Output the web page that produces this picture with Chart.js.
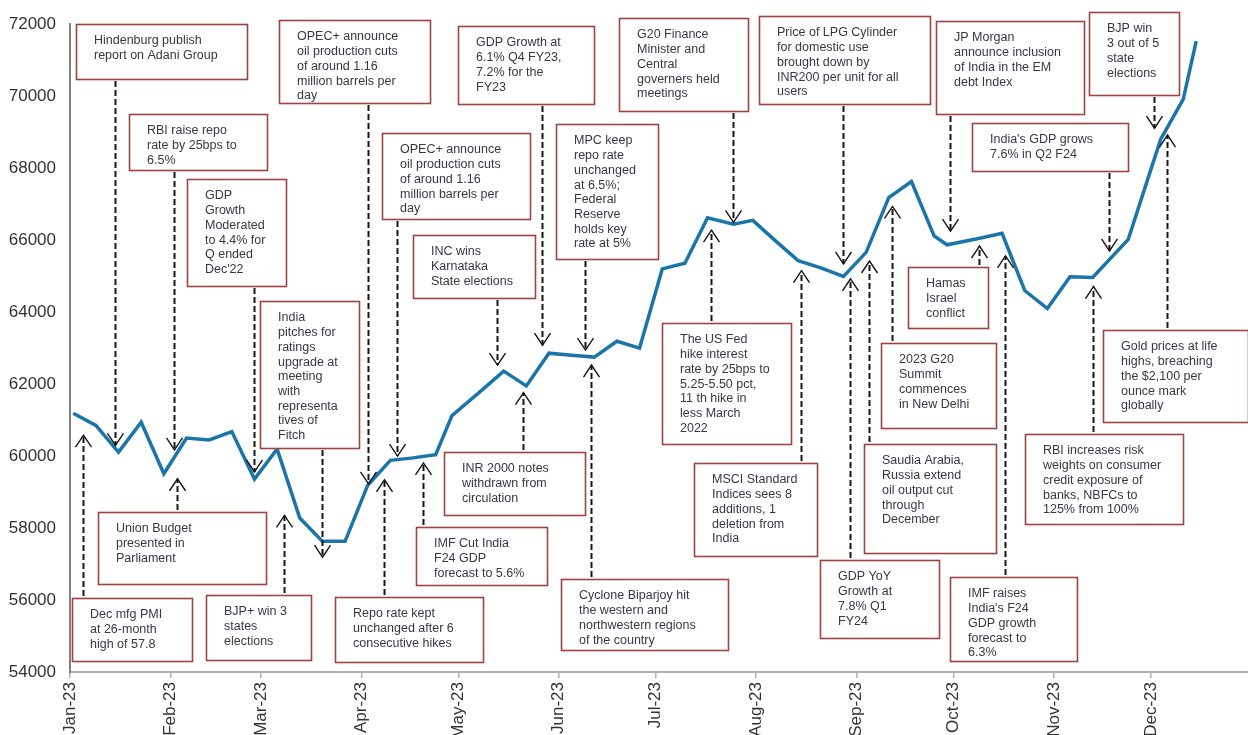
<!DOCTYPE html>
<html>
<head>
<meta charset="utf-8">
<title>Nifty 50 in 2023 - key events</title>
<script src="https://cdn.jsdelivr.net/npm/chart.js@4.4.0/dist/chart.umd.min.js"></script>
<style>
  html, body { margin: 0; padding: 0; background: #fff; overflow: hidden; }
  #wrap { width: 1248px; height: 735px; }
</style>
</head>
<body>
<div id="wrap"><canvas id="niftyChart"></canvas></div>
<script>
// weekly closes, x = day of the year (0 = 1 Jan 2023)
const weekDays = [1, 8, 15, 22, 29, 36, 43, 50, 57, 64, 71, 78, 85, 92, 99, 106, 113, 118,
  127, 134, 141, 148, 155, 162, 169, 176, 183, 190, 197, 205, 211, 218, 225, 232, 239, 246,
  253, 260, 267, 271, 280, 288, 295, 302, 309, 316, 327, 337, 344, 348];
const closeLevels = [61190, 60850, 60110, 60940, 59510, 60500, 60450, 60680, 59360, 60200,
  58280, 57630, 57630, 59190, 59880, 59950, 60040, 61120, 61810, 62360, 61950, 62860, 62800,
  62750, 63190, 63000, 65200, 65360, 66620, 66440, 66550, 65980, 65430, 65230, 64990, 65660,
  67180, 67630, 66120, 65870, 66030, 66190, 64600, 64100, 64980, 64960, 66020, 68800, 69920,
  71530];

const monthStarts = [0, 31, 59, 90, 120, 151, 181, 212, 243, 273, 304, 334];
const monthLabels = ['Jan-23', 'Feb-23', 'Mar-23', 'Apr-23', 'May-23', 'Jun-23', 'Jul-23',
  'Aug-23', 'Sep-23', 'Oct-23', 'Nov-23', 'Dec-23'];
const levelTicks = [54000, 56000, 58000, 60000, 62000, 64000, 66000, 68000, 70000, 72000];

// events: day of the year, level the arrow points at, text lines
const noteDays = [14, 4, 32, 33, 57, 66, 78, 92, 97, 101, 109, 132, 140, 146, 159, 161, 198,
  205, 226, 239, 241, 247, 254, 272, 281, 289, 316, 321, 335, 339];
const noteLevels = [60300, 60580, 60170, 59370, 59560, 58350, 57190, 59230, 59340, 60000,
  59810, 62530, 61760, 63080, 62945, 62530, 66275, 66495, 65150, 65340, 64925, 65420, 66935,
  66250, 65835, 65560, 64710, 65700, 69110, 68920];
const noteTexts = [
  ['Hindenburg publish', 'report on Adani Group'],
  ['Dec mfg PMI', 'at 26-month', 'high of 57.8'],
  ['RBI raise repo', 'rate by 25bps to', '6.5%'],
  ['Union Budget', 'presented in', 'Parliament'],
  ['GDP', 'Growth', 'Moderated', 'to 4.4% for', 'Q ended', "Dec'22"],
  ['BJP+ win 3', 'states', 'elections'],
  ['India', 'pitches for', 'ratings', 'upgrade at', 'meeting', 'with', 'representa', 'tives of', 'Fitch'],
  ['OPEC+ announce', 'oil production cuts', 'of around 1.16', 'million barrels per', 'day'],
  ['Repo rate kept', 'unchanged after 6', 'consecutive hikes'],
  ['OPEC+ announce', 'oil production cuts', 'of around 1.16', 'million barrels per', 'day'],
  ['IMF Cut India', 'F24 GDP', 'forecast to 5.6%'],
  ['INC wins', 'Karnataka', 'State elections'],
  ['INR 2000 notes', 'withdrawn from', 'circulation'],
  ['GDP Growth at', '6.1% Q4 FY23,', '7.2% for the', 'FY23'],
  ['MPC keep', 'repo rate', 'unchanged', 'at 6.5%;', 'Federal', 'Reserve', 'holds key', 'rate at 5%'],
  ['Cyclone Biparjoy hit', 'the western and', 'northwestern regions', 'of the country'],
  ['The US Fed', 'hike interest', 'rate by 25bps to', '5.25-5.50 pct,', '11 th hike in', 'less March', '2022'],
  ['G20 Finance', 'Minister and', 'Central', 'governers held', 'meetings'],
  ['MSCI Standard', 'Indices sees 8', 'additions, 1', 'deletion from', 'India'],
  ['Price of LPG Cylinder', 'for domestic use', 'brought down by', 'INR200 per unit for all', 'users'],
  ['GDP YoY', 'Growth at', '7.8% Q1', 'FY24'],
  ['Saudia Arabia,', 'Russia extend', 'oil output cut', 'through', 'December'],
  ['2023 G20', 'Summit', 'commences', 'in New Delhi'],
  ['JP Morgan', 'announce inclusion', 'of India in the EM', 'debt Index'],
  ['Hamas', 'Israel', 'conflict'],
  ['IMF raises', "India's F24", 'GDP growth', 'forecast to', '6.3%'],
  ['RBI increases risk', 'weights on consumer', 'credit exposure of', 'banks, NBFCs to', '125% from 100%'],
  ["India's GDP grows", '7.6% in Q2 F24'],
  ['BJP win', '3 out of 5', 'state', 'elections'],
  ['Gold prices at life', 'highs, breaching', 'the $2,100 per', 'ounce mark', 'globally']
];

// where each callout box sits on the canvas: left, top, width, height
const noteBoxes = [
  [76, 24, 171, 55], [72, 598, 120, 63], [129, 114, 138, 56], [98, 512, 168, 72],
  [187, 179, 99, 107], [206, 595, 105, 65], [260, 301, 99, 147], [279, 20, 151, 83],
  [335, 597, 148, 65], [382, 133, 148, 86], [416, 527, 131, 58], [413, 235, 122, 63],
  [444, 452, 141, 63], [458, 26, 136, 78], [556, 124, 102, 135], [561, 579, 167, 71],
  [662, 323, 129, 121], [619, 18, 129, 93], [694, 463, 123, 93], [759, 16, 171, 88],
  [820, 560, 119, 78], [864, 444, 132, 109], [881, 343, 115, 85], [936, 21, 148, 93],
  [908, 267, 80, 61], [950, 577, 127, 84], [1025, 434, 158, 90], [972, 123, 156, 48],
  [1089, 12, 90, 83], [1103, 330, 145, 92]
];

const fontFamily = '"Liberation Sans", Arial, sans-serif';

// dashed arrows + boxed captions on top of the line
const eventNotes = {
  id: 'eventNotes',
  afterDatasetsDraw(chart) {
    const ctx = chart.ctx;
    const x = chart.scales.x;
    const y = chart.scales.y;
    ctx.save();
    ctx.strokeStyle = '#161616';
    noteDays.forEach((day, i) => {
      const box = noteBoxes[i];
      const px = Math.round(x.getPixelForValue(day)) + 0.5;
      const tip = y.getPixelForValue(noteLevels[i]);
      const down = box[1] + box[3] < tip;
      const tail = down ? box[1] + box[3] + 2 : box[1] - 2;
      ctx.setLineDash([6, 3]);
      ctx.lineWidth = 2;
      ctx.beginPath();
      ctx.moveTo(px, tail);
      ctx.lineTo(px, tip);
      ctx.stroke();
      ctx.setLineDash([]);
      ctx.lineWidth = 1.4;
      const back = down ? -12 : 12;
      ctx.beginPath();
      ctx.moveTo(px - 8, tip + back);
      ctx.lineTo(px, tip);
      ctx.lineTo(px + 8, tip + back);
      ctx.stroke();
    });

    ctx.font = '12.5px ' + fontFamily;
    ctx.textAlign = 'left';
    ctx.textBaseline = 'middle';
    noteTexts.forEach((lines, i) => {
      const [bx, by, bw, bh] = noteBoxes[i];
      ctx.fillStyle = '#fff';
      ctx.fillRect(bx, by, bw, bh);
      ctx.lineWidth = 1.6;
      ctx.strokeStyle = '#a04242';
      ctx.strokeRect(bx + 0.5, by + 0.5, bw, bh);
      ctx.fillStyle = '#363846';
      lines.forEach((t, j) => ctx.fillText(t, bx + 18, by + 17 + j * 14.7));
    });
    ctx.restore();
  }
};

const points = weekDays.map((d, i) => ({ x: d, y: closeLevels[i] }));

new Chart(document.getElementById('niftyChart'), {
  type: 'line',
  data: {
    datasets: [{
      data: points,
      borderColor: '#1b75a8',
      borderWidth: 3.5,
      pointRadius: 0,
      tension: 0,
      fill: false
    }]
  },
  options: {
    responsive: true,
    maintainAspectRatio: false,
    animation: false,
    layout: { padding: { top: 18, left: 0, right: 0, bottom: 0 } },
    plugins: {
      legend: { display: false },
      tooltip: { enabled: false }
    },
    scales: {
      x: {
        type: 'linear',
        min: 0,
        max: 364,
        afterBuildTicks: (s) => { s.ticks = monthStarts.map(v => ({ value: v })); },
        afterFit: (s) => { s.height = 63; },
        ticks: {
          autoSkip: false,
          maxRotation: 90,
          minRotation: 90,
          padding: 4,
          color: '#333',
          font: { family: fontFamily, size: 17 },
          callback: (v, i) => monthLabels[i]
        },
        grid: { drawOnChartArea: false, drawTicks: true, tickLength: 6, color: '#b0b0b0', lineWidth: 1.5 },
        border: { display: true, color: '#b0b0b0', width: 2 }
      },
      y: {
        min: 54000,
        max: 72000,
        afterBuildTicks: (s) => { s.ticks = levelTicks.map(v => ({ value: v })); },
        afterFit: (s) => { s.width = 70; },
        ticks: {
          padding: 14,
          color: '#333',
          font: { family: fontFamily, size: 17 },
          callback: (v) => String(v)
        },
        grid: { display: false, drawTicks: false },
        border: { display: true, color: '#808080', width: 2 }
      }
    }
  },
  plugins: [eventNotes]
});
</script>
</body>
</html>
